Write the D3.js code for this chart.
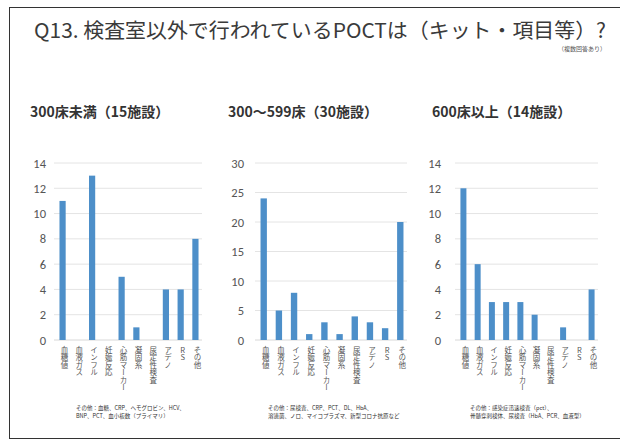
<!DOCTYPE html>
<html>
<head>
<meta charset="utf-8">
<script src="https://cdn.jsdelivr.net/npm/d3@7"></script>
<style>
  body{margin:0;background:#fff;font-family:"Noto Sans CJK JP",sans-serif}
  .cat{writing-mode:vertical-rl;text-orientation:upright}
</style>
</head>
<body>
<svg id="chart" width="620" height="445"></svg>
<script>
// categories (same for all three panels)
var categories = ['血糖値','血液ガス','インフル','妊娠反応','心筋マーカー','凝固系','尿定性検査','アデノ','RS','その他']

var panelTitles = ['300床未満（15施設）','300〜599床（30施設）','600床以上（14施設）']
var under300 = [11, 0, 13, 0, 5, 1, 0, 4, 4, 8]
var mid300to599 = [24, 5, 8, 1, 3, 1, 4, 3, 2, 20]
var over600 = [12, 6, 3, 3, 3, 2, 0, 1, 0, 4]
var yMax = [14, 30, 14]
var yStep = [2, 5, 2]
var notes = [
  ['その他：血糖、CRP、ヘモグロビン、HCV、', 'BNP、PCT、血小板数（プライマリ）'],
  ['その他：尿検査、CRP、PCT、DL、HbA、', '溶連菌、ノロ、マイコプラズマ、新型コロナ抗原など'],
  ['その他：感染症迅速検査（pct）、', '骨髄穿刺検体、尿検査（HbA、PCR、血液型）']
]

var series = [under300, mid300to599, over600]

var svg = d3.select('#chart')

svg.append('rect')
  .attr('x', 9.5).attr('y', 7.5).attr('width', 620).attr('height', 431)
  .attr('fill', 'none').attr('stroke', '#333').attr('stroke-width', 1)

svg.append('text').text('Q13.  検査室以外で行われているPOCTは（キット・項目等）?')
  .attr('x', 34).attr('y', 38)
  .attr('font-size', 20.5).attr('fill', '#3a3a3a').attr('font-weight', 400)
  .attr('textLength', 572).attr('lengthAdjust', 'spacingAndGlyphs')

svg.append('text').text('（複数回答あり）')
  .attr('x', 606).attr('y', 51).attr('text-anchor', 'end')
  .attr('font-size', 6).attr('fill', '#555')

// panel geometry
var panels = [
  {titleX: 30, axisX: 46, x0: 54, x1: 202, noteX: 76},
  {titleX: 228, axisX: 244, x0: 255, x1: 407, noteX: 268},
  {titleX: 432, axisX: 441, x0: 455, x1: 598, noteX: 470}
]
var yTop = 163, yBot = 340

panels.forEach(function(p, pi){
  var g = svg.append('g')

  g.append('text').text(panelTitles[pi])
    .attr('x', p.titleX).attr('y', 117)
    .attr('font-size', 14).attr('font-weight', 'bold').attr('fill', '#333')

  var x = d3.scaleBand().domain(categories).range([p.x0 + 4, p.x1 - 2]).paddingInner(0.58).paddingOuter(0.1)
  var y = d3.scaleLinear().domain([0, yMax[pi]]).range([yBot, yTop])

  var ticks = d3.range(0, yMax[pi] + 0.001, yStep[pi])

  g.selectAll('line.grid').data(ticks.filter(function(d){ return d > 0 })).enter().append('line')
    .attr('x1', p.x0).attr('x2', p.x1)
    .attr('y1', function(d){ return y(d) }).attr('y2', function(d){ return y(d) })
    .attr('stroke', '#e4e4e4').attr('stroke-width', 1)

  g.append('line').attr('x1', p.x0).attr('x2', p.x1).attr('y1', yBot).attr('y2', yBot)
    .attr('stroke', '#d8d8d8')

  g.selectAll('text.tick').data(ticks).enter().append('text')
    .text(function(d){ return d })
    .attr('x', p.axisX).attr('y', function(d){ return y(d) + 4.5 })
    .attr('text-anchor', 'end').attr('font-size', 12.5).attr('fill', '#555')
    .attr('font-family', 'Carlito, "Liberation Sans", sans-serif')

  g.selectAll('rect.bar').data(series[pi]).enter().append('rect')
    .attr('x', function(d, i){ return x(categories[i]) })
    .attr('width', x.bandwidth())
    .attr('y', function(d){ return y(d) })
    .attr('height', function(d){ return yBot - y(d) })
    .attr('fill', '#4d8fc9')

  g.selectAll('text.cat').data(categories).enter().append('text')
    .attr('class', 'cat')
    .text(function(d){ return d })
    .attr('x', function(d){ return x(d) + x.bandwidth() / 2 + 2 })
    .attr('y', 346)
    .attr('font-size', 7.5).attr('fill', '#555')

  g.selectAll('text.note').data(notes[pi]).enter().append('text')
    .text(function(d){ return d })
    .attr('x', p.noteX).attr('y', function(d, i){ return 410 + i * 8 })
    .attr('font-size', 5.5).attr('fill', '#333')
})
</script>
</body>
</html>
